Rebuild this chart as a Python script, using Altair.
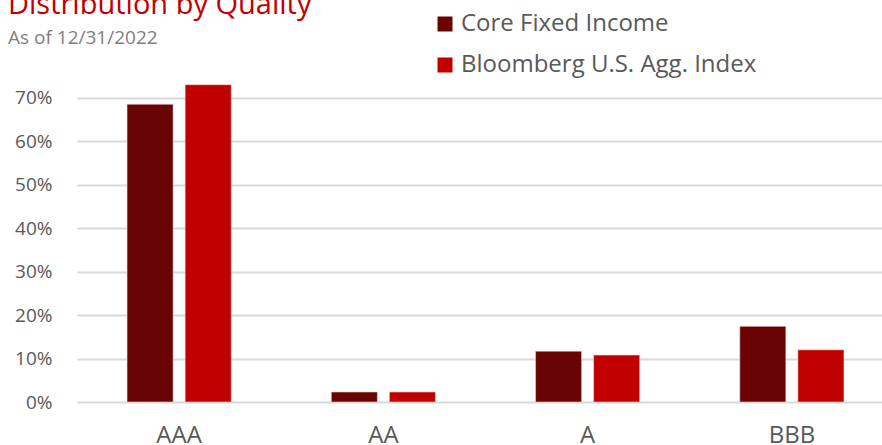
import altair as alt
import pandas as pd

categories = ["AAA", "AA", "A", "BBB"]
series_names = ["Core Fixed Income", "Bloomberg U.S. Agg. Index"]
core_values = [0.685, 0.023, 0.117, 0.174]
agg_values = [0.730, 0.023, 0.108, 0.120]
y_ticks = [0.0, 0.1, 0.2, 0.3, 0.4, 0.5, 0.6, 0.7]
colors = ["#6A0404", "#C00000"]

rows = []
for c, v in zip(categories, core_values):
    rows.append({"Quality": c, "Series": series_names[0], "Value": v})
for c, v in zip(categories, agg_values):
    rows.append({"Quality": c, "Series": series_names[1], "Value": v})
df = pd.DataFrame(rows)

FONT = "Open Sans"
GRAY = "#595959"

chart = alt.Chart(df).mark_bar(stroke="#f0d0d0", strokeWidth=0.6).encode(
    x=alt.X("Quality:N", sort=categories, title=None,
            scale=alt.Scale(range=[0, 817], paddingInner=0.49, paddingOuter=0.245),
            axis=alt.Axis(labelAngle=0, labelFontSize=24, labelColor=GRAY, labelFont=FONT,
                          ticks=False, domain=False, labelPadding=21, grid=False)),
    xOffset=alt.XOffset("Series:N", sort=series_names,
                        scale=alt.Scale(paddingInner=0.207, paddingOuter=0)),
    y=alt.Y("Value:Q", title=None,
            scale=alt.Scale(domain=[0, 0.75], nice=False, zero=True),
            axis=alt.Axis(values=y_ticks, format=".0%", labelFontSize=19, labelColor=GRAY,
                          labelFont=FONT, ticks=False, domain=False, labelPadding=25,
                          grid=True, gridColor="#D9D9D9", gridWidth=2)),
    color=alt.Color("Series:N", sort=series_names,
                    scale=alt.Scale(domain=series_names, range=colors),
                    legend=alt.Legend(title=None, orient="none", legendX=356, legendY=-64,
                                      symbolType="square", symbolSize=225, symbolStrokeWidth=0,
                                      labelFontSize=24, labelColor=GRAY, labelFont=FONT,
                                      labelOffset=4, rowPadding=17, padding=0, labelLimit=0)),
).properties(
    width=805,
    height=326,
    title=alt.TitleParams(
        text="Distribution by Quality",
        subtitle="As of 12/31/2022",
        anchor="start",
        frame="group",
        font=FONT,
        fontSize=29,
        fontWeight="normal",
        color="#C00000",
        subtitleFont=FONT,
        subtitleFontSize=19,
        subtitleColor="#7F7F7F",
        subtitlePadding=9,
        dx=-69,
        dy=64,
        offset=28,
    ),
    autosize=alt.AutoSizeParams(type="none"),
    padding={"left": 77, "top": 76, "right": 0, "bottom": 43},
).configure_view(stroke=None)

chart.save("out.html", embed_options={"renderer": "svg", "actions": False})
